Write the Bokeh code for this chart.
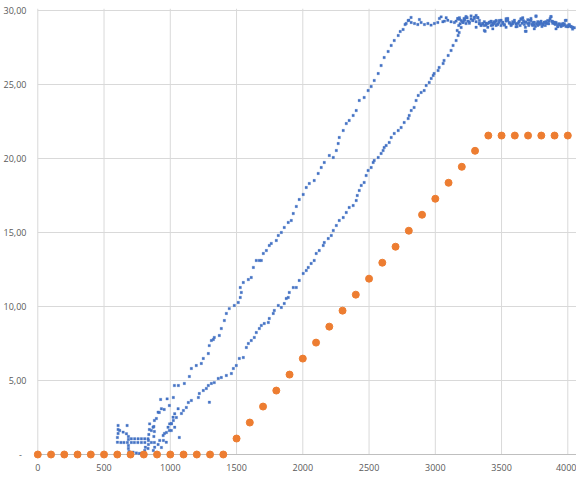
from bokeh.plotting import figure
from bokeh.models import FixedTicker, Range1d
from bokeh.embed import file_html
from bokeh.resources import INLINE

# ---- data ----
x_ticks = [0, 500, 1000, 1500, 2000, 2500, 3000, 3500, 4000]
y_ticks = [0, 5, 10, 15, 20, 25, 30]
y_tick_labels = ["-\u00a0\u00a0", "5,00", "10,00", "15,00", "20,00", "25,00", "30,00"]

# orange series (every 100)
orange_x = [0, 100, 200, 300, 400, 500, 600, 700, 800, 900, 1000, 1100, 1200, 1300, 1400,
            1500, 1600, 1700, 1800, 1900, 2000, 2100, 2200, 2300, 2400, 2500, 2600, 2700,
            2800, 2900, 3000, 3100, 3200, 3300, 3400, 3500, 3600, 3700, 3800, 3900, 4000]
orange_y = [0, 0, 0, 0, 0, 0, 0, 0, 0, 0, 0, 0, 0, 0, 0,
            1.08, 2.16, 3.24, 4.32, 5.40, 6.48, 7.56, 8.64, 9.72, 10.80, 11.88, 12.96, 14.04,
            15.12, 16.20, 17.28, 18.36, 19.44, 20.52, 21.55, 21.55, 21.55, 21.55, 21.55, 21.55, 21.55]

# blue series: start-up region
start_x = [606, 674, 606, 606, 601, 601, 618, 644, 669, 627, 650, 676, 706, 729, 755, 782, 808, 857, 880,
           684, 684, 684, 684, 688, 691, 706, 731, 757, 782, 807, 832, 719, 744, 767, 782, 807, 832, 835,
           838, 842, 872, 876, 880, 876, 812, 844, 870, 908, 933, 882, 908, 920, 946, 983, 995, 1021,
           1033, 1059, 927, 976, 1033, 1295, 1008, 1068, 970, 1008]
start_y = [1.96, 1.96, 1.69, 1.42, 1.15, 0.83, 1.62, 1.51, 1.40, 0.81, 0.81, 0.81, 0.81, 0.81, 0.81, 0.81,
           0.81, 0.81, 0.81, 1.22, 1.01, 0.61, 0.41, 0.20, 0.07, 1.06, 1.06, 1.06, 1.06, 1.06, 1.06, 0.16,
           0.10, 0.07, 0.09, 0.27, 0.41, 0.68, 1.35, 1.69, 0.27, 1.22, 1.55, 1.89, 0.49, 2.07, 1.84, 2.86,
           3.09, 0.49, 0.68, 0.95, 1.28, 1.84, 2.07, 2.52, 2.75, 3.09, 3.72, 3.76, 1.84, 3.53, 1.62, 1.15,
           0.83, 2.07]

# blue series: first (upper-left) ramp
upper_x = [835, 857, 880, 895, 917, 954, 993, 1023, 1031, 1061, 1106, 1144, 1159, 1196, 1234, 1249, 1287,
           1294, 1310, 1325, 1332, 1370, 1385, 1408, 1423, 1445, 1483, 1513, 1528, 1528, 1536, 1551, 1589,
           1611, 1627, 1649, 1672, 1687, 1702, 1725, 1747, 1762, 1800, 1815, 1838, 1860, 1890, 1913, 1928,
           1951, 1973, 2003, 2026, 2049, 2086, 2116, 2139, 2162, 2200, 2230, 2253, 2267, 2275, 2305, 2328,
           2350, 2380, 2403, 2426, 2463, 2493, 2516, 2539, 2569, 2591, 2614, 2644, 2667, 2690, 2720, 2735,
           2757, 2772, 2795, 2817]
upper_y = [0.95, 1.62, 2.30, 2.43, 2.84, 3.04, 3.31, 3.85, 4.66, 4.66, 4.80, 5.27, 5.81, 6.01, 6.15, 6.49,
           6.82, 7.36, 7.70, 7.77, 7.91, 8.04, 8.51, 9.05, 9.53, 9.86, 10.07, 10.27, 10.61, 11.28, 10.95,
           11.62, 11.82, 11.96, 12.64, 13.11, 13.11, 13.11, 13.58, 13.78, 14.12, 14.26, 14.46, 14.80, 15.00,
           15.34, 15.68, 15.81, 16.28, 16.76, 17.23, 17.57, 18.04, 18.31, 18.51, 18.99, 19.39, 19.73, 20.20,
           20.07, 20.54, 21.01, 21.42, 21.89, 22.36, 22.57, 22.91, 23.24, 23.92, 24.12, 24.59, 24.86, 25.27,
           25.74, 26.28, 26.82, 27.23, 27.64, 27.97, 28.31, 28.58, 28.72, 29.05, 29.32, 29.53]

# blue series: second (lower-right) ramp
lower_x = [933, 948, 956, 971, 993, 1008, 1023, 1046, 1084, 1099, 1121, 1136, 1159, 1212, 1219, 1249, 1272,
           1287, 1310, 1332, 1362, 1385, 1423, 1461, 1476, 1498, 1521, 1551, 1574, 1589, 1611, 1634, 1649,
           1672, 1687, 1709, 1740, 1747, 1777, 1785, 1815, 1838, 1860, 1875, 1890, 1898, 1928, 1951, 1973,
           2003, 2026, 2041, 2063, 2086, 2101, 2124, 2154, 2162, 2192, 2215, 2230, 2253, 2275, 2305, 2328,
           2350, 2380, 2403, 2411, 2426, 2441, 2463, 2478, 2493, 2516, 2531, 2539, 2569, 2591, 2606, 2614,
           2629, 2652, 2667, 2690, 2720, 2742, 2765, 2795, 2803, 2818, 2840, 2855, 2871, 2893, 2916, 2931,
           2954, 2969, 2984, 2991, 3021, 3029, 3059, 3066, 3097, 3119, 3134, 3157, 3172, 3180, 3195, 3210,
           3217, 3232]
lower_y = [0.47, 0.95, 1.42, 1.49, 1.62, 2.09, 2.30, 2.50, 2.77, 2.97, 3.18, 3.51, 3.65, 3.85, 4.12, 4.32,
           4.46, 4.66, 4.80, 4.86, 5.14, 5.20, 5.34, 5.47, 5.81, 6.01, 6.49, 6.55, 7.23, 7.50, 7.70, 7.91,
           8.24, 8.51, 8.72, 8.85, 8.92, 9.19, 9.53, 9.73, 10.07, 9.93, 10.20, 10.54, 10.61, 10.95, 11.28,
           11.28, 11.76, 12.23, 12.43, 12.64, 12.91, 13.11, 13.58, 13.78, 14.12, 14.32, 14.59, 14.80, 15.14,
           15.47, 15.81, 16.01, 16.35, 16.69, 16.82, 17.16, 17.50, 17.84, 18.18, 18.38, 18.85, 19.19, 19.39,
           19.73, 19.86, 20.07, 20.34, 20.54, 20.74, 20.88, 21.08, 21.42, 21.69, 21.89, 22.09, 22.43, 22.70,
           22.91, 23.24, 23.45, 23.92, 24.26, 24.46, 24.59, 24.93, 25.14, 25.41, 25.61, 25.74, 25.95, 26.15,
           26.42, 26.62, 26.96, 27.30, 27.64, 27.97, 28.31, 28.51, 28.85, 29.19, 29.46, 29.53]

# blue series: plateau (first pass)
plateau_x = [2780, 2800, 2818, 2843, 2868, 2880, 2893, 2918, 2944, 2968, 2993, 3019, 3031, 3044, 3057, 3069,
             3082, 3094, 3119, 3144, 3157, 3170, 3182, 3207, 3220, 3232, 3240, 3257, 3270, 3283, 3295, 3308,
             3321, 3333, 3346, 3358, 3370, 3376, 3383, 3396, 3408, 3421, 3434, 3446, 3421, 3434, 3446, 3459,
             3471, 3483, 3496, 3509, 3521, 3534, 3547, 3559, 3572, 3584, 3597, 3609, 3622, 3634, 3647, 3660,
             3672, 3685, 3698, 3710, 3722, 3735, 3747, 3760, 3773, 3785, 3798, 3811, 3823, 3835, 3848, 3860,
             3873, 3886, 3898, 3911, 3924, 3936, 3949, 3962, 3974, 3987, 4000, 4012, 4024, 4036]
plateau_y = [29.12, 29.34, 29.19, 29.12, 29.05, 29.39, 29.19, 29.05, 29.12, 29.01, 29.12, 29.19, 29.46, 29.57,
             29.24, 29.28, 29.51, 29.34, 29.24, 29.19, 29.28, 29.46, 29.41, 29.24, 29.34, 29.12, 29.51, 29.24,
             29.64, 29.34, 29.46, 29.24, 29.51, 29.12, 29.01, 29.12, 29.24, 28.60, 29.01, 29.12, 29.19, 29.28,
             29.12, 29.24, 29.24, 29.01, 29.12, 29.28, 29.05, 29.19, 29.34, 29.12, 29.01, 29.28, 29.46, 29.19,
             29.05, 29.24, 29.34, 28.90, 29.12, 29.28, 29.41, 29.51, 29.24, 28.60, 29.12, 29.34, 29.46, 29.19,
             29.05, 29.64, 29.24, 29.12, 29.28, 29.01, 29.19, 29.24, 29.12, 29.28, 29.57, 29.24, 29.12, 29.19,
             28.90, 29.05, 28.97, 29.12, 29.01, 29.34, 28.90, 28.97, 28.90, 28.74]

# blue series: plateau (second pass, overlapping band)
plateau2_x = [3170, 3182, 3195, 3208, 3187, 3177, 3165, 3220, 3232, 3245, 3257, 3270, 3283, 3295, 3308, 3321,
              3333, 3345, 3358, 3370, 3383, 3396, 3408, 3421, 3434, 3446, 3459, 3471, 3483, 3496, 3509, 3521,
              3534, 3547, 3559, 3572, 3584, 3597, 3308, 3370, 3434, 3333, 3534, 3459,
              3609, 3617, 3630, 3640, 3647, 3655, 3664, 3672, 3680, 3685, 3698, 3705, 3710, 3722, 3730, 3735,
              3747, 3755, 3760, 3765, 3773, 3780, 3785, 3798, 3805, 3811, 3823, 3830, 3836, 3848, 3856, 3866,
              3873, 3881, 3886, 3898, 3906, 3911, 3924, 3931, 3936, 3949, 3956, 3961, 3974, 3981, 3986, 3999,
              4011, 4024, 4037, 4049, 3680, 3747, 3911]
plateau2_y = [29.44, 29.51, 29.32, 29.21, 29.10, 28.99, 28.65, 29.37, 29.59, 29.28, 29.14, 29.44, 29.32, 29.55,
              29.66, 29.51, 29.32, 28.99, 29.10, 28.99, 29.14, 28.87, 29.21, 28.99, 29.10, 29.21, 29.32, 29.10,
              29.32, 28.99, 29.21, 29.05, 29.44, 29.32, 29.14, 28.99, 29.10, 29.21, 28.87, 28.65, 28.76, 29.10,
              28.87, 28.99,
              29.10, 28.92, 29.21, 28.99, 29.44, 29.14, 29.32, 29.05, 28.87, 29.21, 29.37, 28.99, 29.14, 29.32,
              29.05, 28.99, 29.21, 28.92, 29.59, 29.10, 28.99, 29.21, 29.05, 29.14, 28.92, 29.10, 29.21, 28.99,
              29.14, 29.32, 29.10, 29.44, 29.59, 29.28, 29.14, 29.21, 29.05, 29.14, 28.99, 29.05, 29.10, 28.92,
              29.05, 28.99, 29.10, 29.32, 28.92, 28.99, 29.05, 28.92, 28.87, 28.83, 28.60, 28.76, 28.76]

# ---- figure ----
x_start, x_end = -32.4, 4065.6
y_start, y_end = -0.405, 30.135

p = figure(width=576, height=476, output_backend="svg", toolbar_location=None,
           x_range=Range1d(x_start, x_end), y_range=Range1d(y_start, y_end),
           min_border_left=32, min_border_right=0, min_border_top=8, min_border_bottom=16)
p.outline_line_color = None
p.background_fill_color = "white"
p.border_fill_color = "white"
p.xgrid.visible = False
p.ygrid.visible = False

grid_color = "#d9d9d9"
# vertical gridlines from 0 to top
p.segment(x0=x_ticks, y0=[0] * len(x_ticks), x1=x_ticks, y1=[y_end] * len(x_ticks),
          line_color=grid_color, line_width=1)
# horizontal gridlines
h_ticks = y_ticks[1:]
p.segment(x0=[0] * len(h_ticks), y0=h_ticks, x1=[x_end] * len(h_ticks), y1=h_ticks,
          line_color=grid_color, line_width=1)
# horizontal axis line at 0
p.segment(x0=[0], y0=[0], x1=[x_end], y1=[0], line_color="#bfbfbf", line_width=1)

blue = "#4472C4"
for xs, ys in [(start_x, start_y), (upper_x, upper_y), (lower_x, lower_y),
               (plateau_x, plateau_y), (plateau2_x, plateau2_y)]:
    p.scatter(xs, ys, marker="square", size=2.4, fill_color=blue, line_color=blue, line_width=0.3)

p.scatter(orange_x, orange_y, marker="circle", size=7, fill_color="#ED7D31", line_color="#ED7D31")

label_font = "Open Sans"
for ax in [p.xaxis[0], p.yaxis[0]]:
    ax.axis_line_color = None
    ax.major_tick_line_color = None
    ax.minor_tick_line_color = None
    ax.major_tick_out = 0
    ax.major_tick_in = 0
    ax.major_label_text_color = "#595959"
    ax.major_label_text_font = label_font
    ax.major_label_text_font_size = "9px"

p.xaxis[0].ticker = FixedTicker(ticks=x_ticks)
p.xaxis[0].major_label_standoff = 3
p.yaxis[0].ticker = FixedTicker(ticks=y_ticks)
p.yaxis[0].major_label_standoff = 7
p.yaxis[0].major_label_overrides = {t: lab for t, lab in zip(y_ticks, y_tick_labels)}

open("out.html", "w").write(file_html(p, INLINE))
